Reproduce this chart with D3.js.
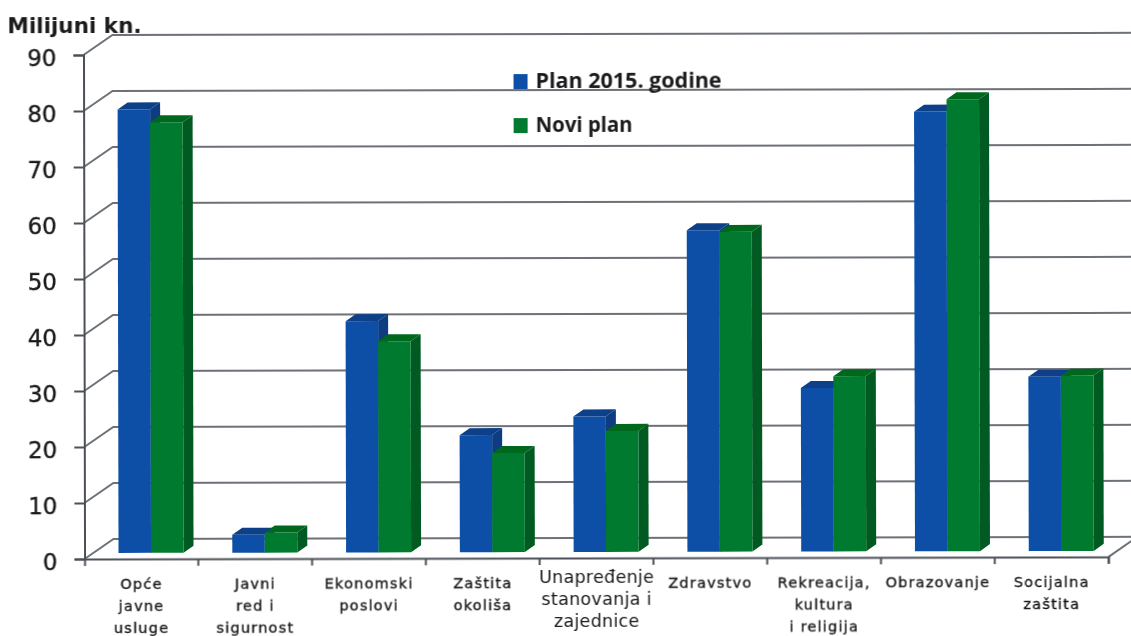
<!DOCTYPE html>
<html>
<head>
<meta charset="utf-8">
<script src="https://cdn.jsdelivr.net/npm/d3@7"></script>
<style>
html, body { margin: 0; background: #fff; overflow: hidden; }
text { font-family: "DejaVu Sans", sans-serif; fill: #1a1a1a; }
.legendItem text { font-family: "Open Sans", sans-serif; font-weight: 700; stroke: none; }
.tick text { stroke: #1a1a1a; stroke-width: 0.35px; }
.catLabel { stroke: #1a1a1a; stroke-width: 0.35px; }
</style>
</head>
<body>
<script>
//chart data
var categories = ["Opće javne usluge", "Javni red i sigurnost", "Ekonomski poslovi", "Zaštita okoliša",
    "Unapređenje stanovanja i zajednice", "Zdravstvo", "Rekreacija, kultura i religija", "Obrazovanje", "Socijalna zaštita"];
var categoryLines = [["Opće", "javne", "usluge"], ["Javni", "red i", "sigurnost"], ["Ekonomski", "poslovi"], ["Zaštita", "okoliša"],
    ["Unapređenje", "stanovanja i", "zajednice"], ["Zdravstvo"], ["Rekreacija,", "kultura", "i religija"], ["Obrazovanje"], ["Socijalna", "zaštita"]];
var seriesNames = ["Plan 2015. godine", "Novi plan"];
var planValues = [79.2, 3.2, 41.3, 20.9, 24.2, 57.4, 29.2, 78.5, 31.1];
var noviValues = [76.9, 3.6, 37.7, 17.7, 21.6, 57.1, 31.3, 80.7, 31.3];
var yTicks = [0, 10, 20, 30, 40, 50, 60, 70, 80, 90];
var yTitle = "Milijuni kn.";

var width = 1131, height = 636;

//front plane of the 3d box
var x0 = d3.scaleBand().domain(categories).range([84, 1108]);
var x1 = d3.scaleBand().domain(seriesNames).range([34, 99]);
var y = d3.scaleLinear().domain([0, 90]).range([558, 54]);

//depth of the wall and of the bars
var wallDx = 29, wallDy = -20;
var barShiftY = -6, barDx = 10, barDy = -7;

var colors = {
    front: ["#0b50a6", "#067a2e"],
    side: ["#083c80", "#045a20"],
    top: ["#0a3f88", "#05681f"]
};

var svg = d3.select("body").append("svg")
    .attr("width", width)
    .attr("height", height);

var defs = svg.append("defs");
defs.append("filter").attr("id", "scan")
    .attr("filterUnits", "userSpaceOnUse")
    .attr("x", 0).attr("y", 0).attr("width", width).attr("height", height)
    .append("feGaussianBlur").attr("stdDeviation", 0.55);

//the scan is very slightly rotated
var chart = svg.append("g")
    .attr("filter", "url(#scan)")
    .append("g")
    .attr("transform", "rotate(-0.12 565 300)");

var gridColor = "#6d7278", axisColor = "#4b5058";

//gridlines: short diagonal on the side wall, then along the back wall
chart.selectAll(".grid")
    .data(yTicks)
    .enter()
    .append("path")
    .attr("class", "grid")
    .attr("fill", "none")
    .attr("stroke", gridColor)
    .attr("stroke-width", 2)
    .attr("d", function(d){
        var yy = y(d);
        return "M" + x0.range()[0] + "," + yy +
            "L" + (x0.range()[0] + wallDx) + "," + (yy + wallDy) +
            "L" + (width + 10) + "," + (yy + wallDy);
    });

//right edge of the floor
chart.append("line")
    .attr("x1", x0.range()[1]).attr("y1", y(0))
    .attr("x2", x0.range()[1] + wallDx).attr("y2", y(0) + wallDy)
    .attr("stroke", gridColor)
    .attr("stroke-width", 2);

//axes
var yAxis = d3.axisLeft(y).tickValues(yTicks).tickSize(10).tickPadding(17);
var yG = chart.append("g")
    .attr("transform", "translate(" + x0.range()[0] + ",0)")
    .call(yAxis);
yG.select(".domain").attr("stroke", axisColor).attr("stroke-width", 2);
yG.selectAll(".tick line").attr("stroke", axisColor).attr("stroke-width", 2);
yG.selectAll(".tick text")
    .attr("font-size", 23)
    .attr("dy", "0.47em")
    .attr("fill", "#1a1a1a");

var xAxis = d3.axisBottom(x0).tickSize(7).tickFormat("").tickSizeOuter(7);
var xG = chart.append("g")
    .attr("transform", "translate(0," + y(0) + ")")
    .call(xAxis);
xG.select(".domain").attr("stroke", axisColor).attr("stroke-width", 2);
//ticks sit between the categories
xG.selectAll(".tick line")
    .attr("x1", x0.bandwidth() / 2).attr("x2", x0.bandwidth() / 2)
    .attr("stroke", axisColor).attr("stroke-width", 2);

//bars
var seriesValues = [planValues, noviValues];
seriesNames.forEach(function(name, s){
    var barW = x1.bandwidth();
    var groups = chart.selectAll(".bar" + s)
        .data(categories)
        .enter()
        .append("g")
        .attr("class", "bar" + s)
        .attr("transform", function(d){
            return "translate(" + (x0(d) + x1(name)) + ",0)";
        });

    groups.append("path")
        .attr("fill", colors.top[s])
        .attr("d", function(d, i){
            var t = y(seriesValues[s][i]) + barShiftY;
            return "M0," + t + "L" + barDx + "," + (t + barDy) + "L" + (barW + barDx) + "," + (t + barDy) + "L" + barW + "," + t + "Z";
        });
    groups.append("path")
        .attr("fill", colors.side[s])
        .attr("d", function(d, i){
            var t = y(seriesValues[s][i]) + barShiftY, b = y(0) + barShiftY;
            return "M" + barW + "," + t + "L" + (barW + barDx) + "," + (t + barDy) + "L" + (barW + barDx) + "," + (b + barDy) + "L" + barW + "," + b + "Z";
        });
    groups.append("rect")
        .attr("fill", colors.front[s])
        .attr("width", barW)
        .attr("y", function(d, i){ return y(seriesValues[s][i]) + barShiftY; })
        .attr("height", function(d, i){ return y(0) - y(seriesValues[s][i]); });
});

//category labels, the fifth one is set larger in the original
var labels = chart.selectAll(".catLabel")
    .data(categories)
    .enter()
    .append("text")
    .attr("class", "catLabel")
    .attr("text-anchor", "middle")
    .attr("font-size", function(d, i){ return i == 4 ? 17.5 : 14.5; })
    .attr("letter-spacing", function(d, i){ return i == 4 ? 0.3 : 1.2; })
    .attr("y", function(d, i){ return i == 4 ? 583 : 588; });

labels.each(function(d, i){
    var label = d3.select(this);
    categoryLines[i].forEach(function(line, n){
        label.append("tspan")
            .attr("x", x0(d) + x0.bandwidth() / 2)
            .attr("dy", n == 0 ? 0 : 22)
            .text(line);
    });
});
//the large label has no outline
labels.filter(function(d, i){ return i == 4; }).style("stroke", "none");

//y title
chart.append("text")
    .attr("x", 8)
    .attr("y", 32)
    .attr("font-size", 21.5)
    .attr("font-weight", "bold")
    .text(yTitle);

//legend
var legend = chart.selectAll(".legendItem")
    .data(seriesNames)
    .enter()
    .append("g")
    .attr("class", "legendItem")
    .attr("transform", function(d, i){ return "translate(514," + (i == 0 ? 74 : 118) + ")"; });
legend.append("rect")
    .attr("width", 14).attr("height", 15)
    .attr("fill", function(d, i){ return colors.front[i]; });
legend.append("text")
    .attr("x", 22)
    .attr("y", 14)
    .attr("font-size", 21)
    .attr("textLength", function(d, i){ return i == 0 ? 186 : 97; })
    .attr("lengthAdjust", "spacingAndGlyphs")
    .text(function(d){ return d; });
</script>
</body>
</html>
